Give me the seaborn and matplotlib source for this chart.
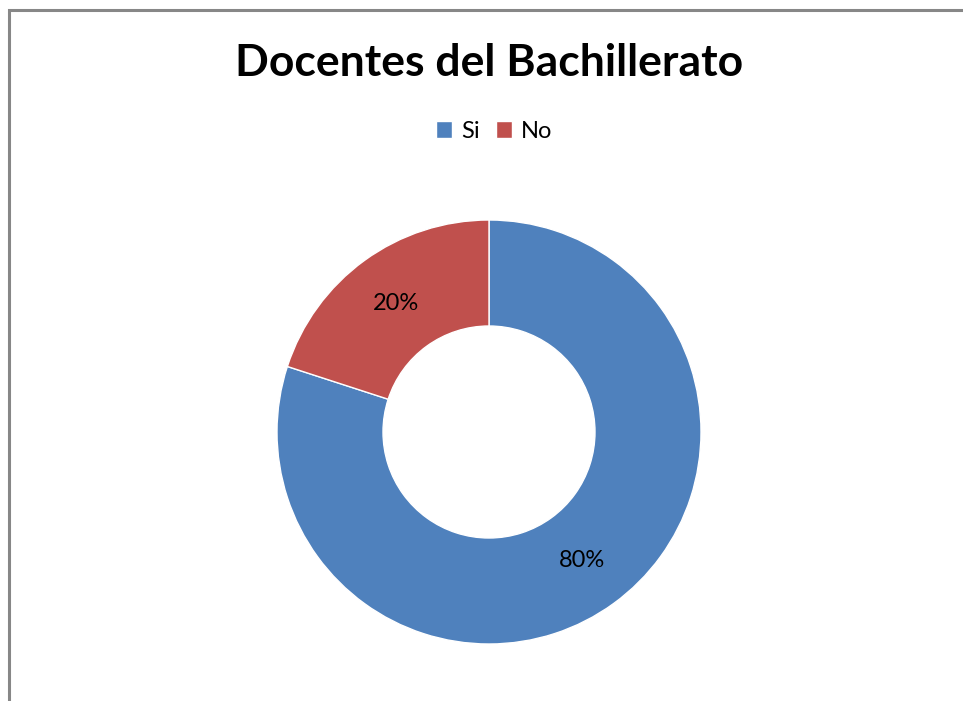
import matplotlib
matplotlib.use("Agg")
import matplotlib.pyplot as plt
import seaborn as sns
from matplotlib.patches import Rectangle

# datos
categorias = ["Si", "No"]
porcentajes = [80, 20]
colores = ["#4F81BD", "#C0504D"]
titulo = "Docentes del Bachillerato"

sns.set_style("white")
plt.rcParams["font.family"] = ["Lato", "DejaVu Sans"]
plt.rcParams["text.color"] = "black"

fig = plt.figure(figsize=(9.63, 7.01), dpi=100)

# marco del grafico
fig.patches.append(Rectangle((9 / 963, -0.05), 1.0, (701 - 10) / 701 + 0.05,
                             transform=fig.transFigure, fill=False,
                             edgecolor="#878787", linewidth=2.2))

ax = fig.add_axes([(489 - 212) / 963, (701 - 644) / 701, 424 / 963, 424 / 701])
wedges, textos, autotextos = ax.pie(
    porcentajes, colors=sns.color_palette(colores), startangle=90,
    counterclock=False, autopct="%d%%", pctdistance=0.75,
    wedgeprops=dict(width=0.5, edgecolor="white", linewidth=1),
    textprops=dict(fontsize=17, color="black"))
ax.set_xlim(-1, 1)
ax.set_ylim(-1, 1)
ax.set_aspect("equal")

fig.text(489 / 963, 1 - 63 / 701, titulo, ha="center", va="center",
         fontsize=32, fontweight="bold", color="black")
fig.legend(wedges, categorias, loc="center", bbox_to_anchor=(494 / 963, 1 - 131 / 701),
           ncol=2, frameon=False, fontsize=17, handlelength=0.7, handleheight=0.7,
           handletextpad=0.35, columnspacing=0.7, labelcolor="black")

fig.savefig("out.png", dpi=100)
